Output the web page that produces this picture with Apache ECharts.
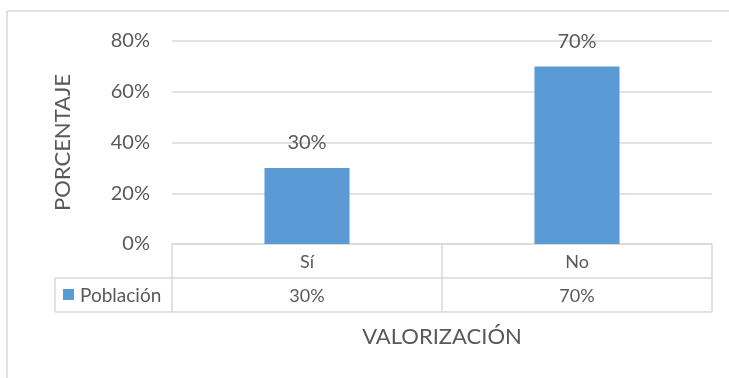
<!DOCTYPE html>
<html>
<head>
<meta charset="utf-8">
<script src="https://cdn.jsdelivr.net/npm/echarts@6/dist/echarts.min.js"></script>
<style>
  html, body { margin: 0; padding: 0; background: #fff; }
  #chart { width: 729px; height: 378px; }
</style>
</head>
<body>
<div id="chart"></div>
<script>
// Chart data
const categories = ['Sí', 'No'];
const seriesName = 'Población';
const values = [30, 70];
const yTicks = [0, 20, 40, 60, 80];

const FONT = 'Lato, "Open Sans", sans-serif';
const TEXT = '#595959';
const LINE = '#D9D9D9';
const BAR = '#5B9BD5';

// Plot area and data-table geometry (layout only)
const gridLeft = 172, gridRight = 17, gridTop = 41, gridBottom = 134;
const W = 729, H = 378;
const rowH = 34;
const legendLeft = 55;

const chart = echarts.init(document.getElementById('chart'));

chart.setOption({
  animation: false,
  grid: { left: gridLeft, right: gridRight, top: gridTop, bottom: gridBottom },
  xAxis: {
    type: 'category',
    data: categories,
    axisLine: { show: true, lineStyle: { color: LINE, width: 1.5 } },
    axisTick: { show: false },
    axisLabel: { color: TEXT, fontFamily: FONT, fontSize: 18, margin: 9 },
    name: 'VALORIZACIÓN',
    nameLocation: 'middle',
    nameGap: 82,
    nameTextStyle: { color: TEXT, fontFamily: FONT, fontSize: 22 }
  },
  yAxis: {
    type: 'value',
    min: yTicks[0],
    max: yTicks[yTicks.length - 1],
    interval: yTicks[1] - yTicks[0],
    axisLine: { show: false },
    axisTick: { show: false },
    splitLine: { lineStyle: { color: LINE, width: 1.5 } },
    axisLabel: { color: TEXT, fontFamily: FONT, fontSize: 20, margin: 22, formatter: v => v + '%' },
    name: 'PORCENTAJE',
    nameLocation: 'middle',
    nameGap: 98,
    nameRotate: 90,
    nameTextStyle: { color: TEXT, fontFamily: FONT, fontSize: 22 }
  },
  series: [{
    name: seriesName,
    type: 'bar',
    data: values,
    barWidth: '31.5%',
    itemStyle: { color: BAR },
    label: {
      show: true,
      position: 'top',
      distance: 15,
      color: TEXT,
      fontFamily: FONT,
      fontSize: 20,
      formatter: p => p.value + '%'
    }
  }]
});

// Data table beneath the plot, positioned from the axis scale
function drawTable() {
  const plotBottom = H - gridBottom;
  const plotRight = W - gridRight;
  const r1 = plotBottom + rowH;
  const r2 = r1 + rowH;
  const lineStyle = { stroke: LINE, lineWidth: 1.5 };
  const els = [];

  // frame of the chart area (top and left edges)
  els.push({ type: 'line', shape: { x1: 7, y1: 11, x2: W, y2: 11 }, style: lineStyle });
  els.push({ type: 'line', shape: { x1: 7, y1: 11, x2: 7, y2: H }, style: lineStyle });

  // horizontal rules
  els.push({ type: 'line', shape: { x1: legendLeft, y1: r1, x2: plotRight, y2: r1 }, style: lineStyle });
  els.push({ type: 'line', shape: { x1: legendLeft, y1: r2, x2: plotRight, y2: r2 }, style: lineStyle });
  // vertical rules
  els.push({ type: 'line', shape: { x1: legendLeft, y1: r1, x2: legendLeft, y2: r2 }, style: lineStyle });
  els.push({ type: 'line', shape: { x1: gridLeft, y1: plotBottom, x2: gridLeft, y2: r2 }, style: lineStyle });
  els.push({ type: 'line', shape: { x1: plotRight, y1: plotBottom, x2: plotRight, y2: r2 }, style: lineStyle });

  const centers = categories.map((c, i) => chart.convertToPixel({ xAxisIndex: 0 }, i));
  for (let i = 0; i < centers.length - 1; i++) {
    const xb = (centers[i] + centers[i + 1]) / 2;
    els.push({ type: 'line', shape: { x1: xb, y1: plotBottom, x2: xb, y2: r2 }, style: lineStyle });
  }

  // legend key cell
  els.push({ type: 'rect', shape: { x: 63, y: r1 + 11, width: 11, height: 11 }, style: { fill: BAR } });
  els.push({ type: 'text', x: 80, y: r1 + rowH / 2 + 1, style: { text: seriesName, fill: TEXT, font: '19px ' + FONT, textVerticalAlign: 'middle', textAlign: 'left' } });

  // value row
  values.forEach((v, i) => {
    els.push({ type: 'text', x: centers[i], y: r1 + rowH / 2 + 1, style: { text: v + '%', fill: TEXT, font: '18px ' + FONT, textAlign: 'center', textVerticalAlign: 'middle' } });
  });

  chart.setOption({ graphic: els });
}
drawTable();
</script>
</body>
</html>
